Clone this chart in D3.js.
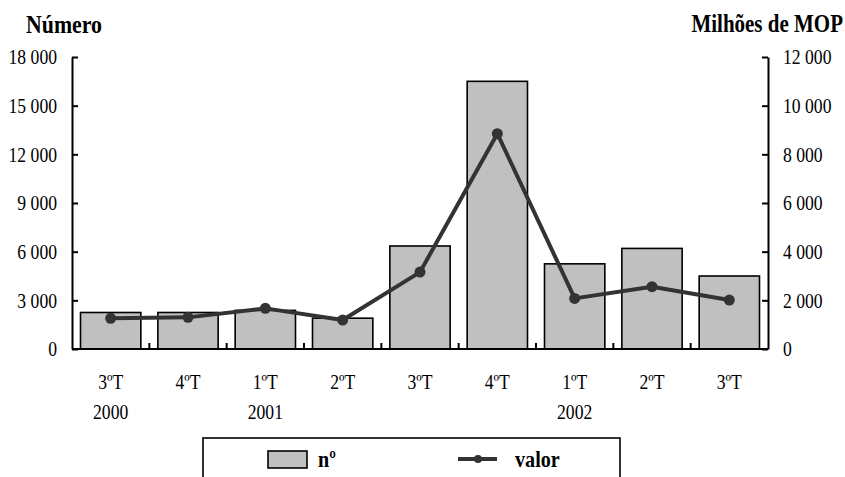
<!DOCTYPE html>
<html>
<head>
<meta charset="utf-8">
<script src="https://cdn.jsdelivr.net/npm/d3@7"></script>
<style>
  html, body { margin: 0; padding: 0; background: #fff; }
  svg text { font-family: "Liberation Serif", "Times New Roman", serif; fill: #000; }
</style>
</head>
<body>
<svg id="chart" width="845" height="477"></svg>
<script>
// Quarterly data
const quarters = ["3ºT", "4ºT", "1ºT", "2ºT", "3ºT", "4ºT", "1ºT", "2ºT", "3ºT"];
const years = [{ i: 0, label: "2000" }, { i: 2, label: "2001" }, { i: 6, label: "2002" }];
const numero = [2250, 2250, 2380, 1900, 6350, 16500, 5250, 6200, 4500];   // left axis (bars)
const valor = [1260, 1300, 1670, 1190, 3160, 8850, 2080, 2560, 2010];     // right axis (line), Milhões de MOP
const leftTicks = [0, 3000, 6000, 9000, 12000, 15000, 18000];
const rightTicks = [0, 2000, 4000, 6000, 8000, 10000, 12000];

const SX = 0.84; // narrow letterforms
const svg = d3.select("#chart");
const m = { left: 72, right: 768, top: 57, bottom: 349 };

const x = d3.scaleBand().domain(d3.range(quarters.length)).range([m.left, m.right]).paddingInner(0.22).paddingOuter(0.11);
const yL = d3.scaleLinear().domain([0, 18000]).range([m.bottom, m.top]);
const yR = d3.scaleLinear().domain([0, 12000]).range([m.bottom, m.top]);
const fmt = d3.formatLocale({ thousands: " ", grouping: [3], decimal: "," }).format(",");

// scaled text helper
function stext(g, px, py, str, opts) {
  const t = g.append("text")
    .attr("transform", `translate(${px},${py}) scale(${SX},1)`)
    .attr("text-anchor", opts.anchor || "start")
    .attr("font-size", opts.size)
    .attr("font-weight", opts.weight || "normal")
    .text(str);
  return t;
}

// bars
svg.append("g").selectAll("rect").data(numero).join("rect")
  .attr("x", (d, i) => x(i))
  .attr("width", x.bandwidth())
  .attr("y", d => yL(d))
  .attr("height", d => yL(0) - yL(d))
  .attr("fill", "#c0c0c0")
  .attr("stroke", "#000")
  .attr("stroke-width", 1.6);

// left axis
const gl = svg.append("g").attr("transform", `translate(${m.left},0)`)
  .call(d3.axisLeft(yL).tickValues(leftTicks).tickFormat(fmt).tickSizeInner(-6).tickSizeOuter(0).tickPadding(0));
gl.select(".domain").attr("stroke-width", 2);
gl.selectAll(".tick line").attr("stroke-width", 2);
gl.selectAll(".tick text").attr("font-size", 21).attr("font-family", "Liberation Serif")
  .attr("x", -15 / SX).attr("dy", "0.32em").attr("transform", `scale(${SX},1)`);

// right axis
const gr = svg.append("g").attr("transform", `translate(${m.right},0)`)
  .call(d3.axisRight(yR).tickValues(rightTicks).tickFormat(fmt).tickSizeInner(-6).tickSizeOuter(0).tickPadding(0));
gr.select(".domain").attr("stroke-width", 2);
gr.selectAll(".tick line").attr("stroke-width", 2);
gr.selectAll(".tick text").attr("font-size", 21).attr("font-family", "Liberation Serif")
  .attr("x", 15 / SX).attr("dy", "0.32em").attr("transform", `scale(${SX},1)`);

// category axis with ticks between quarters
const bounds = d3.range(1, quarters.length).map(k => m.left + k * x.step() + (x.step() * x.paddingOuter() - x.step() * x.paddingOuter()));
const xb = svg.append("g");
xb.append("line").attr("x1", m.left).attr("x2", m.right).attr("y1", m.bottom).attr("y2", m.bottom)
  .attr("stroke", "#000").attr("stroke-width", 2);
const stepW = (m.right - m.left) / quarters.length;
xb.selectAll("line.tk").data(d3.range(1, quarters.length)).join("line").attr("class", "tk")
  .attr("x1", k => m.left + k * stepW).attr("x2", k => m.left + k * stepW)
  .attr("y1", m.bottom).attr("y2", m.bottom - 6)
  .attr("stroke", "#000").attr("stroke-width", 2);

quarters.forEach((q, i) => stext(svg, x(i) + x.bandwidth() / 2, 389, q, { anchor: "middle", size: 21 }));
years.forEach(yv => stext(svg, x(yv.i) + x.bandwidth() / 2, 419, yv.label, { anchor: "middle", size: 21 }));

// line series
const line = d3.line().x((d, i) => x(i) + x.bandwidth() / 2).y(d => yR(d));
svg.append("path").datum(valor).attr("d", line)
  .attr("fill", "none").attr("stroke", "#333").attr("stroke-width", 4).attr("stroke-linejoin", "round");
svg.append("g").selectAll("circle").data(valor).join("circle")
  .attr("cx", (d, i) => x(i) + x.bandwidth() / 2).attr("cy", d => yR(d)).attr("r", 5.5).attr("fill", "#333");

// axis titles
stext(svg, 26, 33, "Número", { size: 26, weight: "bold" });
stext(svg, 843, 32, "Milhões de MOP", { anchor: "end", size: 25, weight: "bold" });

// legend
const lg = svg.append("g");
lg.append("rect").attr("x", 203).attr("y", 438).attr("width", 417).attr("height", 60)
  .attr("fill", "#fff").attr("stroke", "#000").attr("stroke-width", 1.6);
lg.append("rect").attr("x", 268).attr("y", 451).attr("width", 39).attr("height", 17)
  .attr("fill", "#c0c0c0").attr("stroke", "#000").attr("stroke-width", 1.6);
stext(lg, 318, 467, "nº", { size: 24, weight: "bold" });
lg.append("line").attr("x1", 458).attr("x2", 497).attr("y1", 459).attr("y2", 459)
  .attr("stroke", "#333").attr("stroke-width", 4);
lg.append("circle").attr("cx", 478).attr("cy", 459).attr("r", 4).attr("fill", "#333");
stext(lg, 515, 467, "valor", { size: 24, weight: "bold" });
</script>
</body>
</html>
